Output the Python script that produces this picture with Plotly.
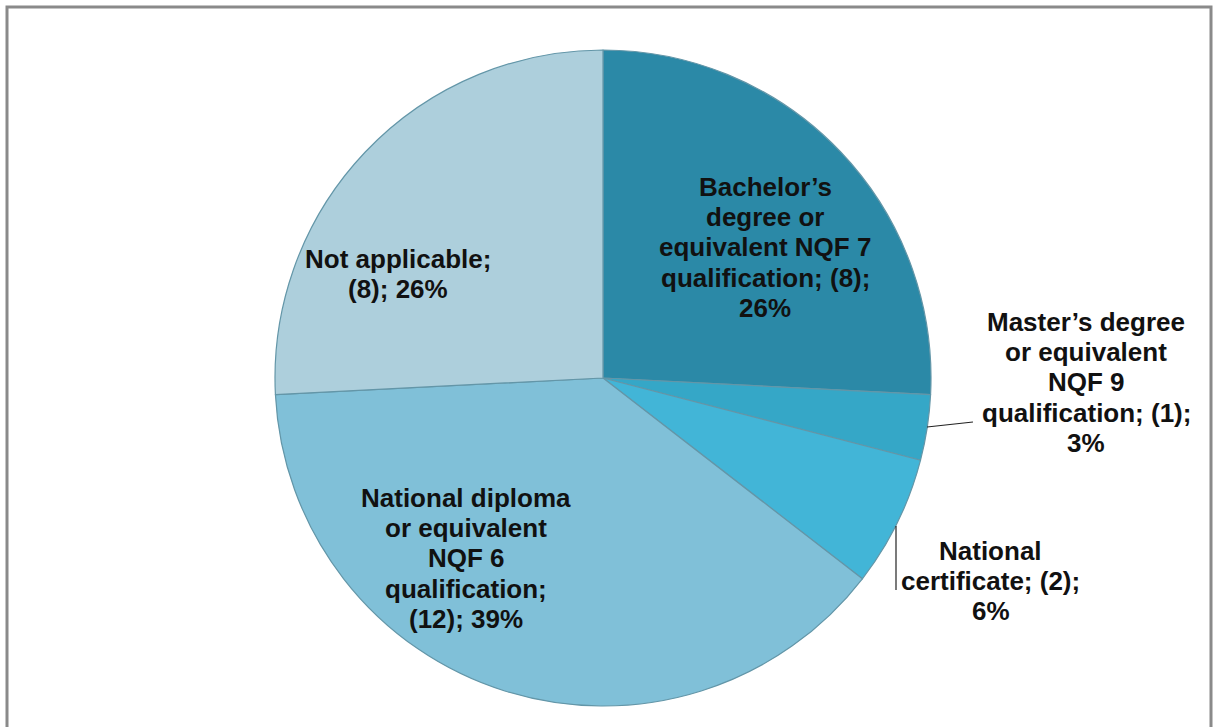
import plotly.graph_objects as go

# Highest qualification of respondents: counts per category
categories = [
    "Bachelor’s degree or equivalent NQF 7 qualification",
    "Master’s degree or equivalent NQF 9 qualification",
    "National certificate",
    "National diploma or equivalent NQF 6 qualification",
    "Not applicable",
]
counts = [8, 1, 2, 12, 8]
percent_labels = ["26%", "3%", "6%", "39%", "26%"]

# Label text, broken into lines
label_lines = [
    ["Bachelor’s", "degree or", "equivalent NQF 7", "qualification; (8);", "26%"],
    ["Master’s degree", "or equivalent", "NQF 9", "qualification; (1);", "3%"],
    ["National", "certificate; (2);", "6%"],
    ["National diploma", "or equivalent", "NQF 6", "qualification;", "(12); 39%"],
    ["Not applicable;", "(8); 26%"],
]

slice_colors = ["#2B89A7", "#35A7C7", "#42B5D7", "#80C0D8", "#ADCFDC"]

W, H = 1218, 727
cx, cy, r = 603, 378, 328  # pie centre and radius in pixels

fig = go.Figure()
fig.add_trace(go.Pie(
    labels=categories,
    values=counts,
    sort=False,
    direction="clockwise",
    rotation=0,
    marker=dict(colors=slice_colors, line=dict(color="#6396A8", width=1.2)),
    textinfo="none",
    hoverinfo="label+value+percent",
    showlegend=False,
    domain=dict(x=[(cx - r) / W, (cx + r) / W],
                y=[(H - cy - r) / H, (H - cy + r) / H]),
))

# Label block placement: centre x and y of the first line (pixels)
label_pos = [(765, 187), (1086, 322), (991, 551), (466, 498), (398, 259)]
line_step = 30.2

for lines, (lx, ly) in zip(label_lines, label_pos):
    for i, line in enumerate(lines):
        fig.add_annotation(
            x=lx / W, y=1 - (ly + i * line_step) / H, xref="paper", yref="paper",
            text=f"<b>{line}</b>", showarrow=False,
            font=dict(family="Liberation Sans, Arial, sans-serif", size=26, color="#111111"),
            align="center", xanchor="center", yanchor="middle",
        )

def px_line(x0, y0, x1, y1):
    fig.add_shape(type="line", xref="paper", yref="paper",
                  x0=x0 / W, y0=1 - y0 / H, x1=x1 / W, y1=1 - y1 / H,
                  line=dict(color="#222222", width=1.2))

# Leader lines for the two small slices
px_line(927, 427, 973, 422)
px_line(896, 526, 896, 590)

# Chart frame
fig.add_shape(type="rect", xref="paper", yref="paper",
              x0=7 / W, x1=1211 / W, y0=-0.05, y1=1 - 7 / H,
              line=dict(color="#8A8A8A", width=3), fillcolor="rgba(0,0,0,0)")

fig.update_layout(
    width=W, height=H,
    margin=dict(l=0, r=0, t=0, b=0),
    paper_bgcolor="white", plot_bgcolor="white",
)

fig.write_html("out.html")
